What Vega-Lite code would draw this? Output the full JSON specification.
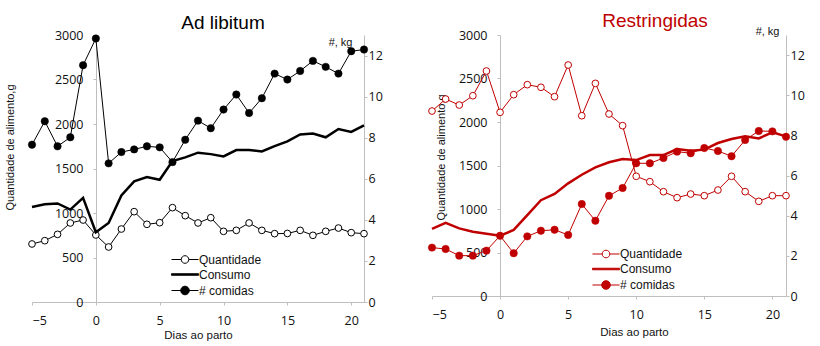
{
  "$schema": "https://vega.github.io/schema/vega-lite/v6.json",
  "background": "white",
  "padding": {"left": 4, "top": 12, "right": 0, "bottom": 0},
  "config": {
    "view": {"stroke": null},
    "font": "Liberation Sans",
    "axis": {"labelFont": "Open Sans", "labelFontSize": 12.5, "labelColor": "#111", "domainColor": "#BFBFBF", "tickColor": "#BFBFBF", "tickSize": 3, "grid": false, "titleFont": "Liberation Sans", "titleFontWeight": "normal", "titleFontSize": 11, "titleColor": "#111", "format": "d"}
  },
  "datasets": {
    "adlib": [
      {"dia":-5,"serie":"Quantidade","valor":652},{"dia":-4,"serie":"Quantidade","valor":689},{"dia":-3,"serie":"Quantidade","valor":760},{"dia":-2,"serie":"Quantidade","valor":888},{"dia":-1,"serie":"Quantidade","valor":921},{"dia":0,"serie":"Quantidade","valor":753},{"dia":1,"serie":"Quantidade","valor":618},{"dia":2,"serie":"Quantidade","valor":820},{"dia":3,"serie":"Quantidade","valor":1015},{"dia":4,"serie":"Quantidade","valor":873},{"dia":5,"serie":"Quantidade","valor":891},{"dia":6,"serie":"Quantidade","valor":1060},{"dia":7,"serie":"Quantidade","valor":970},{"dia":8,"serie":"Quantidade","valor":888},{"dia":9,"serie":"Quantidade","valor":947},{"dia":10,"serie":"Quantidade","valor":794},{"dia":11,"serie":"Quantidade","valor":805},{"dia":12,"serie":"Quantidade","valor":888},{"dia":13,"serie":"Quantidade","valor":805},{"dia":14,"serie":"Quantidade","valor":768},{"dia":15,"serie":"Quantidade","valor":770},{"dia":16,"serie":"Quantidade","valor":805},{"dia":17,"serie":"Quantidade","valor":749},{"dia":18,"serie":"Quantidade","valor":794},{"dia":19,"serie":"Quantidade","valor":831},{"dia":20,"serie":"Quantidade","valor":779},{"dia":21,"serie":"Quantidade","valor":768},
      {"dia":-5,"serie":"Consumo","valor":4.63},{"dia":-4,"serie":"Consumo","valor":4.76},{"dia":-3,"serie":"Consumo","valor":4.8},{"dia":-2,"serie":"Consumo","valor":4.5},{"dia":-1,"serie":"Consumo","valor":5.07},{"dia":0,"serie":"Consumo","valor":3.4},{"dia":1,"serie":"Consumo","valor":3.85},{"dia":2,"serie":"Consumo","valor":5.19},{"dia":3,"serie":"Consumo","valor":5.87},{"dia":4,"serie":"Consumo","valor":6.08},{"dia":5,"serie":"Consumo","valor":5.95},{"dia":6,"serie":"Consumo","valor":6.86},{"dia":7,"serie":"Consumo","valor":7.04},{"dia":8,"serie":"Consumo","valor":7.27},{"dia":9,"serie":"Consumo","valor":7.2},{"dia":10,"serie":"Consumo","valor":7.09},{"dia":11,"serie":"Consumo","valor":7.4},{"dia":12,"serie":"Consumo","valor":7.4},{"dia":13,"serie":"Consumo","valor":7.33},{"dia":14,"serie":"Consumo","valor":7.59},{"dia":15,"serie":"Consumo","valor":7.82},{"dia":16,"serie":"Consumo","valor":8.16},{"dia":17,"serie":"Consumo","valor":8.2},{"dia":18,"serie":"Consumo","valor":8.02},{"dia":19,"serie":"Consumo","valor":8.42},{"dia":20,"serie":"Consumo","valor":8.28},{"dia":21,"serie":"Consumo","valor":8.6},
      {"dia":-5,"serie":"# comidas","valor":7.66},{"dia":-4,"serie":"# comidas","valor":8.8},{"dia":-3,"serie":"# comidas","valor":7.58},{"dia":-2,"serie":"# comidas","valor":8.02},{"dia":-1,"serie":"# comidas","valor":11.53},{"dia":0,"serie":"# comidas","valor":12.83},{"dia":1,"serie":"# comidas","valor":6.75},{"dia":2,"serie":"# comidas","valor":7.3},{"dia":3,"serie":"# comidas","valor":7.43},{"dia":4,"serie":"# comidas","valor":7.58},{"dia":5,"serie":"# comidas","valor":7.53},{"dia":6,"serie":"# comidas","valor":6.81},{"dia":7,"serie":"# comidas","valor":7.9},{"dia":8,"serie":"# comidas","valor":8.83},{"dia":9,"serie":"# comidas","valor":8.46},{"dia":10,"serie":"# comidas","valor":9.37},{"dia":11,"serie":"# comidas","valor":10.1},{"dia":12,"serie":"# comidas","valor":9.2},{"dia":13,"serie":"# comidas","valor":9.92},{"dia":14,"serie":"# comidas","valor":11.12},{"dia":15,"serie":"# comidas","valor":10.83},{"dia":16,"serie":"# comidas","valor":11.25},{"dia":17,"serie":"# comidas","valor":11.74},{"dia":18,"serie":"# comidas","valor":11.45},{"dia":19,"serie":"# comidas","valor":11.12},{"dia":20,"serie":"# comidas","valor":12.21},{"dia":21,"serie":"# comidas","valor":12.29}
    ],
    "restr": [
      {"dia":-5,"serie":"Quantidade","valor":2126},{"dia":-4,"serie":"Quantidade","valor":2264},{"dia":-3,"serie":"Quantidade","valor":2195},{"dia":-2,"serie":"Quantidade","valor":2302},{"dia":-1,"serie":"Quantidade","valor":2586},{"dia":0,"serie":"Quantidade","valor":2111},{"dia":1,"serie":"Quantidade","valor":2314},{"dia":2,"serie":"Quantidade","valor":2429},{"dia":3,"serie":"Quantidade","valor":2399},{"dia":4,"serie":"Quantidade","valor":2291},{"dia":5,"serie":"Quantidade","valor":2655},{"dia":6,"serie":"Quantidade","valor":2072},{"dia":7,"serie":"Quantidade","valor":2444},{"dia":8,"serie":"Quantidade","valor":2092},{"dia":9,"serie":"Quantidade","valor":1958},{"dia":10,"serie":"Quantidade","valor":1376},{"dia":11,"serie":"Quantidade","valor":1314},{"dia":12,"serie":"Quantidade","valor":1199},{"dia":13,"serie":"Quantidade","valor":1130},{"dia":14,"serie":"Quantidade","valor":1172},{"dia":15,"serie":"Quantidade","valor":1153},{"dia":16,"serie":"Quantidade","valor":1218},{"dia":17,"serie":"Quantidade","valor":1376},{"dia":18,"serie":"Quantidade","valor":1199},{"dia":19,"serie":"Quantidade","valor":1088},{"dia":20,"serie":"Quantidade","valor":1153},{"dia":21,"serie":"Quantidade","valor":1153},
      {"dia":-5,"serie":"Consumo","valor":3.34},{"dia":-4,"serie":"Consumo","valor":3.64},{"dia":-3,"serie":"Consumo","valor":3.37},{"dia":-2,"serie":"Consumo","valor":3.2},{"dia":-1,"serie":"Consumo","valor":3.1},{"dia":0,"serie":"Consumo","valor":3.0},{"dia":1,"serie":"Consumo","valor":3.29},{"dia":2,"serie":"Consumo","valor":4.03},{"dia":3,"serie":"Consumo","valor":4.77},{"dia":4,"serie":"Consumo","valor":5.08},{"dia":5,"serie":"Consumo","valor":5.61},{"dia":6,"serie":"Consumo","valor":6.04},{"dia":7,"serie":"Consumo","valor":6.41},{"dia":8,"serie":"Consumo","valor":6.66},{"dia":9,"serie":"Consumo","valor":6.82},{"dia":10,"serie":"Consumo","valor":6.77},{"dia":11,"serie":"Consumo","valor":7.02},{"dia":12,"serie":"Consumo","valor":7.02},{"dia":13,"serie":"Consumo","valor":7.32},{"dia":14,"serie":"Consumo","valor":7.24},{"dia":15,"serie":"Consumo","valor":7.29},{"dia":16,"serie":"Consumo","valor":7.62},{"dia":17,"serie":"Consumo","valor":7.82},{"dia":18,"serie":"Consumo","valor":7.95},{"dia":19,"serie":"Consumo","valor":7.85},{"dia":20,"serie":"Consumo","valor":8.15},{"dia":21,"serie":"Consumo","valor":7.95},
      {"dia":-5,"serie":"# comidas","valor":2.41},{"dia":-4,"serie":"# comidas","valor":2.34},{"dia":-3,"serie":"# comidas","valor":2.01},{"dia":-2,"serie":"# comidas","valor":2.01},{"dia":-1,"serie":"# comidas","valor":2.26},{"dia":0,"serie":"# comidas","valor":3.0},{"dia":1,"serie":"# comidas","valor":2.13},{"dia":2,"serie":"# comidas","valor":2.97},{"dia":3,"serie":"# comidas","valor":3.25},{"dia":4,"serie":"# comidas","valor":3.3},{"dia":5,"serie":"# comidas","valor":3.04},{"dia":6,"serie":"# comidas","valor":4.58},{"dia":7,"serie":"# comidas","valor":3.75},{"dia":8,"serie":"# comidas","valor":4.99},{"dia":9,"serie":"# comidas","valor":5.38},{"dia":10,"serie":"# comidas","valor":6.61},{"dia":11,"serie":"# comidas","valor":6.61},{"dia":12,"serie":"# comidas","valor":6.87},{"dia":13,"serie":"# comidas","valor":7.19},{"dia":14,"serie":"# comidas","valor":7.11},{"dia":15,"serie":"# comidas","valor":7.37},{"dia":16,"serie":"# comidas","valor":7.22},{"dia":17,"serie":"# comidas","valor":6.96},{"dia":18,"serie":"# comidas","valor":7.77},{"dia":19,"serie":"# comidas","valor":8.22},{"dia":20,"serie":"# comidas","valor":8.2},{"dia":21,"serie":"# comidas","valor":7.93}
    ]
  },
  "spacing": 43,
  "resolve": {"scale": {"color": "independent"}},
  "hconcat": [
    {
      "width": 332, "height": 267,
      "title": {"text": "Ad libitum", "fontSize": 19, "fontWeight": "normal", "font": "Liberation Sans", "color": "#000", "dx": 25, "offset": -4},
      "data": {"name": "adlib"},
      "encoding": {
        "x": {"field": "dia", "type": "quantitative", "scale": {"domain": [-5, 21], "nice": false, "zero": false},
              "axis": {"values": [-5, 0, 5, 10, 15, 20], "title": "Dias ao parto", "labelPadding": 9, "titleX": 166, "titleY": 33.5, "titleBaseline": "middle", "titleFontSize": 11.5}}
      },
      "layer": [
        {
          "transform": [{"filter": "datum.serie === 'Quantidade'"}],
          "encoding": {
            "y": {"field": "valor", "type": "quantitative", "scale": {"domain": [0, 3000], "nice": false},
                  "axis": {"values": [0, 500, 1000, 1500, 2000, 2500, 3000], "offset": -64, "title": "Quantidade de alimento,g", "titleX": -86, "titleY": 112, "titleAngle": 270, "titleAlign": "center", "titleBaseline": "middle", "labelPadding": 10}}
          },
          "layer": [
            {"mark": {"type": "line", "strokeWidth": 1},
             "encoding": {"color": {"field": "serie", "type": "nominal", "scale": {"domain": ["Quantidade", "Consumo", "# comidas"], "range": ["#000", "#000", "#000"]},
               "legend": {"orient": "none", "legendX": 147, "legendY": 218.5, "title": null, "padding": 0, "labelFont": "Liberation Sans", "labelFontSize": 12, "labelColor": "#111", "symbolSize": 100, "symbolStrokeWidth": 1, "labelOffset": 8, "rowPadding": 3,
                 "encode": {"symbols": {"update": {
                   "shape": {"signal": "datum.value === 'Consumo' ? 'M-2.7,-0.15H2.7V0.15H-2.7Z' : datum.value === 'Quantidade' ? 'M-2.7,0H-0.76M0.76,0H2.7M0.76,0A0.76,0.76 0 1,1 -0.76,0A0.76,0.76 0 1,1 0.76,0Z' : 'M-2.7,0H2.7M0.86,0A0.86,0.86 0 1,1 -0.86,0A0.86,0.86 0 1,1 0.86,0Z'"},
                   "fill": {"signal": "datum.value === 'Quantidade' ? 'white' : '#000'"},
                   "stroke": {"value": "#000"},
                   "strokeWidth": {"value": 1},
                   "opacity": {"value": 1}}}}}}}},
            {"mark": {"type": "point", "filled": true, "fill": "white", "stroke": "#000", "strokeWidth": 1, "size": 45, "opacity": 1}}
          ]
        },
        {
          "transform": [{"filter": "datum.serie !== 'Quantidade'"}],
          "encoding": {
            "y": {"field": "valor", "type": "quantitative", "scale": {"domain": [0, 13], "nice": false},
                  "axis": {"orient": "right", "values": [0, 2, 4, 6, 8, 10, 12], "title": "#, kg", "titleAngle": 0, "titleX": -12, "titleY": 7, "titleAlign": "right", "titleBaseline": "middle", "titleFontSize": 11, "labelPadding": 1}}
          },
          "layer": [
            {"transform": [{"filter": "datum.serie === 'Consumo'"}], "mark": {"type": "line", "strokeWidth": 2.5},
             "encoding": {"color": {"field": "serie", "type": "nominal", "scale": {"domain": ["Quantidade", "Consumo", "# comidas"], "range": ["#000", "#000", "#000"]}}}},
            {"transform": [{"filter": "datum.serie === '# comidas'"}], "mark": {"type": "line", "strokeWidth": 1},
             "encoding": {"color": {"field": "serie", "type": "nominal", "scale": {"domain": ["Quantidade", "Consumo", "# comidas"], "range": ["#000", "#000", "#000"]}}}},
            {"transform": [{"filter": "datum.serie === '# comidas'"}], "mark": {"type": "point", "filled": true, "fill": "#000", "stroke": "#000", "strokeWidth": 0.5, "size": 55, "opacity": 1}}
          ]
        }
      ],
      "resolve": {"scale": {"y": "independent"}}
    },
    {
      "width": 354, "height": 261,
      "title": {"text": "Restringidas", "fontSize": 19, "fontWeight": "normal", "font": "Liberation Sans", "color": "#C00000", "dx": 46, "offset": -6},
      "data": {"name": "restr"},
      "encoding": {
        "x": {"field": "dia", "type": "quantitative", "scale": {"domain": [-5, 21], "nice": false, "zero": false},
              "axis": {"values": [-5, 0, 5, 10, 15, 20], "title": "Dias ao parto", "labelPadding": 9.6, "titleX": 202, "titleY": 36, "titleBaseline": "middle", "titleFontSize": 11.5}}
      },
      "layer": [
        {
          "transform": [{"filter": "datum.serie === 'Quantidade'"}],
          "encoding": {
            "y": {"field": "valor", "type": "quantitative", "scale": {"domain": [0, 3000], "nice": false},
                  "axis": {"values": [0, 500, 1000, 1500, 2000, 2500, 3000], "offset": -68, "title": "Quantidade de alimento,g", "titleX": -59, "titleY": 122, "titleAngle": 270, "titleAlign": "center", "titleBaseline": "middle", "labelPadding": 10}}
          },
          "layer": [
            {"mark": {"type": "line", "strokeWidth": 1},
             "encoding": {"color": {"field": "serie", "type": "nominal", "scale": {"domain": ["Quantidade", "Consumo", "# comidas"], "range": ["#C00000", "#C00000", "#C00000"]},
               "legend": {"orient": "none", "legendX": 168, "legendY": 213, "title": null, "padding": 0, "labelFont": "Liberation Sans", "labelFontSize": 12, "labelColor": "#111", "symbolSize": 100, "symbolStrokeWidth": 1, "labelOffset": 8, "rowPadding": 3,
                 "encode": {"symbols": {"update": {
                   "shape": {"signal": "datum.value === 'Consumo' ? 'M-2.7,-0.15H2.7V0.15H-2.7Z' : datum.value === 'Quantidade' ? 'M-2.7,0H-0.76M0.76,0H2.7M0.76,0A0.76,0.76 0 1,1 -0.76,0A0.76,0.76 0 1,1 0.76,0Z' : 'M-2.7,0H2.7M0.86,0A0.86,0.86 0 1,1 -0.86,0A0.86,0.86 0 1,1 0.86,0Z'"},
                   "fill": {"signal": "datum.value === 'Quantidade' ? 'white' : '#C00000'"},
                   "stroke": {"value": "#C00000"},
                   "strokeWidth": {"value": 1},
                   "opacity": {"value": 1}}}}}}}},
            {"mark": {"type": "point", "filled": true, "fill": "white", "stroke": "#C00000", "strokeWidth": 1, "size": 45, "opacity": 1}}
          ]
        },
        {
          "transform": [{"filter": "datum.serie !== 'Quantidade'"}],
          "encoding": {
            "y": {"field": "valor", "type": "quantitative", "scale": {"domain": [0, 13], "nice": false},
                  "axis": {"orient": "right", "values": [0, 2, 4, 6, 8, 10, 12], "title": "#, kg", "titleAngle": 0, "titleX": -7, "titleY": -4, "titleAlign": "right", "titleBaseline": "middle", "titleFontSize": 11, "labelPadding": 1}}
          },
          "layer": [
            {"transform": [{"filter": "datum.serie === 'Consumo'"}], "mark": {"type": "line", "strokeWidth": 2.5},
             "encoding": {"color": {"field": "serie", "type": "nominal", "scale": {"domain": ["Quantidade", "Consumo", "# comidas"], "range": ["#C00000", "#C00000", "#C00000"]}}}},
            {"transform": [{"filter": "datum.serie === '# comidas'"}], "mark": {"type": "line", "strokeWidth": 1},
             "encoding": {"color": {"field": "serie", "type": "nominal", "scale": {"domain": ["Quantidade", "Consumo", "# comidas"], "range": ["#C00000", "#C00000", "#C00000"]}}}},
            {"transform": [{"filter": "datum.serie === '# comidas'"}], "mark": {"type": "point", "filled": true, "fill": "#C00000", "stroke": "#C00000", "strokeWidth": 0.5, "size": 55, "opacity": 1}}
          ]
        }
      ],
      "resolve": {"scale": {"y": "independent"}}
    }
  ]
}
